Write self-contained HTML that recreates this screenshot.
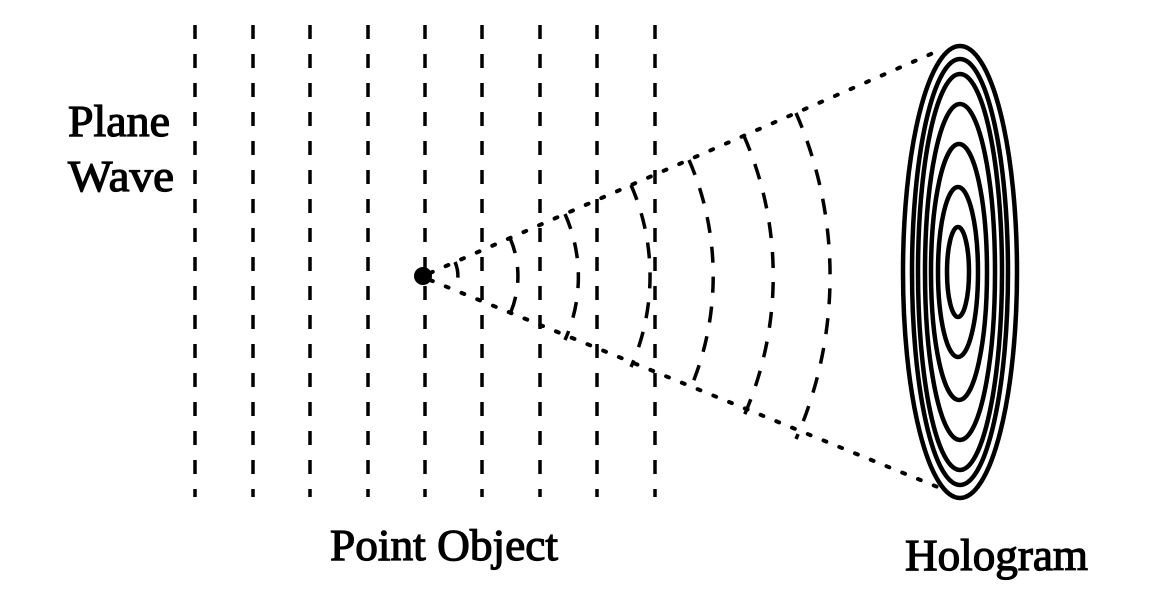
<!DOCTYPE html>
<html><head><meta charset="utf-8"><style>
html,body{margin:0;padding:0;background:#fff;}
svg{display:block;}
text{font-family:"Liberation Serif",serif;fill:#000;}
</style></head><body>
<svg width="1165" height="610" viewBox="0 0 1165 610" xmlns="http://www.w3.org/2000/svg">
<g stroke="#000" stroke-width="3.5" stroke-dasharray="14 15" fill="none">
<line x1="195" y1="25" x2="195" y2="497"/>
<line x1="253" y1="25" x2="253" y2="497"/>
<line x1="310" y1="25" x2="310" y2="497"/>
<line x1="368" y1="25" x2="368" y2="497"/>
<line x1="425" y1="25" x2="425" y2="497"/>
<line x1="482" y1="25" x2="482" y2="497"/>
<line x1="540" y1="25" x2="540" y2="497"/>
<line x1="597" y1="25" x2="597" y2="497"/>
<line x1="655" y1="25" x2="655" y2="497"/>
</g>
<g stroke="#000" stroke-width="4" stroke-dasharray="3 14" stroke-linecap="round" fill="none">
<line x1="430" y1="273" x2="940" y2="50"/>
<line x1="430" y1="280" x2="940" y2="488"/>
</g>
<g stroke="#000" stroke-width="3.5" stroke-dasharray="16 14" fill="none">
<path d="M455 262 A35 35 0 0 1 455 290"/>
<path d="M510 238 A95 95 0 0 1 510 314"/>
<path d="M565 214 A155 155 0 0 1 565 340"/>
<path d="M631 185 A227 227 0 0 1 631 367"/>
<path d="M689 160 A290 290 0 0 1 689 392"/>
<path d="M744 136 A350 350 0 0 1 744 416"/>
<path d="M796 113 A407 407 0 0 1 796 439"/>
</g>
<circle cx="423" cy="276" r="9" fill="#000"/>
<g stroke="#000" stroke-width="4.5" fill="none">
<ellipse cx="960" cy="272" rx="57" ry="226"/>
<ellipse cx="960" cy="272" rx="48" ry="213"/>
<ellipse cx="960" cy="272" rx="42" ry="198"/>
<ellipse cx="960" cy="272" rx="35" ry="168"/>
<ellipse cx="959" cy="272" rx="28" ry="128"/>
<ellipse cx="958" cy="272" rx="20" ry="85"/>
<ellipse cx="958" cy="272" rx="11" ry="45"/>
</g>
<g font-size="44" stroke="#000" stroke-width="1.2">
<text x="68" y="136" textLength="102" lengthAdjust="spacingAndGlyphs">Plane</text>
<text x="68" y="191" textLength="106" lengthAdjust="spacingAndGlyphs">Wave</text>
<text x="330" y="560" textLength="228" lengthAdjust="spacingAndGlyphs">Point Object</text>
<text x="905" y="570" textLength="183" lengthAdjust="spacingAndGlyphs">Hologram</text>
</g>
</svg>
</body></html>
